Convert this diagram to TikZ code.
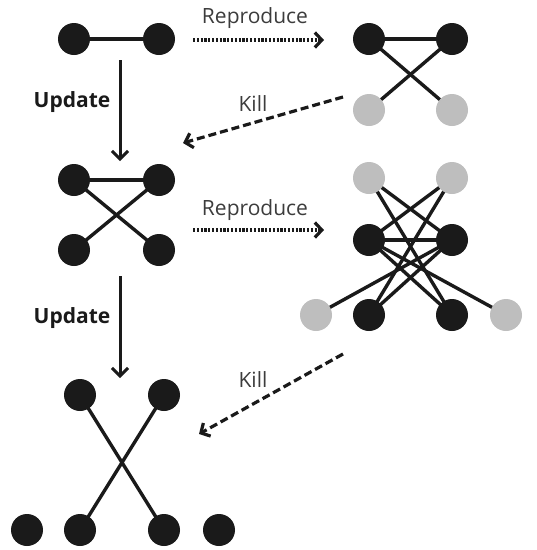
\documentclass[tikz,border=0pt]{standalone}
\usepackage{fontspec}
\setmainfont{Open Sans}
\usetikzlibrary{arrows.meta,backgrounds}
\definecolor{blk}{HTML}{1A1A1A}
\definecolor{gry}{HTML}{BEBEBE}
\tikzset{
  bn/.style={circle,fill=blk,minimum size=32pt,inner sep=0pt},
  gn/.style={circle,fill=gry,minimum size=32pt,inner sep=0pt},
  edge/.style={draw=blk,line width=3.4pt},
  updarrow/.style={draw=blk,line width=3pt,-{Straight Barb[length=8pt,width=16pt,line width=3pt]}},
  reparrow/.style={draw=blk,line width=3.2pt,dash pattern=on 2.2pt off 1.6pt,-{Straight Barb[length=7pt,width=15pt,line width=3.2pt]}},
  killarrow/.style={draw=blk,line width=3.2pt,dash pattern=on 8pt off 4pt,-{Straight Barb[length=7pt,width=15pt,line width=3.2pt]}},
  lbl/.style={font=\fontsize{21}{24}\selectfont,text=blk!85,inner sep=0pt},
  blbl/.style={font=\fontsize{21}{24}\selectfont\bfseries,text=blk,inner sep=0pt}
}
\begin{document}
\begin{tikzpicture}[x=1pt,y=-1pt]
\useasboundingbox (0,0) rectangle (537,550);
% group 1
\node[bn] (a1) at (74,39) {};
\node[bn] (a2) at (159,39) {};
% group 2 (top right)
\node[bn] (b1) at (369,39) {};
\node[bn] (b2) at (452,39) {};
\node[gn] (b3) at (369,110) {};
\node[gn] (b4) at (452,110) {};
% group 3 (middle left)
\node[bn] (c1) at (74,180) {};
\node[bn] (c2) at (159,180) {};
\node[bn] (c3) at (74,250) {};
\node[bn] (c4) at (159,250) {};
% group 4 (middle right)
\node[gn] (d1) at (369,178) {};
\node[gn] (d2) at (452,178) {};
\node[bn] (d3) at (369,240) {};
\node[bn] (d4) at (452,240) {};
\node[gn] (d5) at (316,315) {};
\node[bn] (d6) at (369,315) {};
\node[bn] (d7) at (452,315) {};
\node[gn] (d8) at (506,315) {};
% group 5 (bottom)
\node[bn] (e1) at (80,395) {};
\node[bn] (e2) at (164,395) {};
\node[bn] (e3) at (27,530) {};
\node[bn] (e4) at (80,530) {};
\node[bn] (e5) at (164,530) {};
\node[bn] (e6) at (219,530) {};
\begin{pgfonlayer}{background}
\draw[edge] (a1.center) -- (a2.center);
\draw[edge] (b1.center) -- (b2.center);
\draw[edge] (b1.center) -- (b4.center);
\draw[edge] (b2.center) -- (b3.center);
\draw[edge] (c1.center) -- (c2.center);
\draw[edge] (c1.center) -- (c4.center);
\draw[edge] (c2.center) -- (c3.center);
\draw[edge] (d1.center) -- (d4.center);
\draw[edge] (d1.center) -- (d7.center);
\draw[edge] (d2.center) -- (d3.center);
\draw[edge] (d2.center) -- (d6.center);
\draw[edge] (d3.center) -- (d4.center);
\draw[edge] (d3.center) -- (d7.center);
\draw[edge] (d4.center) -- (d6.center);
\draw[edge] (d3.center) -- (d8.center);
\draw[edge] (d4.center) -- (d5.center);
\draw[edge] (e1.center) -- (e5.center);
\draw[edge] (e2.center) -- (e4.center);
\end{pgfonlayer}
% arrows
\coordinate (u1s) at (120,60);
\coordinate (u1e) at (120,161);
\coordinate (u2s) at (120,276);
\coordinate (u2e) at (120,378);
\draw[updarrow] (u1s) -- (u1e);
\draw[updarrow] (u2s) -- (u2e);
\coordinate (r1s) at (193,40);
\coordinate (r1e) at (324,40);
\coordinate (r2s) at (193,230);
\coordinate (r2e) at (324,230);
\draw[reparrow] (r1s) -- (r1e);
\draw[reparrow] (r2s) -- (r2e);
\coordinate (k1s) at (343,97);
\coordinate (k1e) at (183,143);
\coordinate (k2s) at (343,354);
\coordinate (k2e) at (199,434);
\draw[killarrow] (k1s) -- (k1e);
\draw[killarrow] (k2s) -- (k2e);
% labels
\node[lbl] (t1) at (255,18) {Reproduce};
\node[lbl] (t2) at (255,210) {Reproduce};
\node[lbl] (t3) at (253,104) {Kill};
\node[lbl] (t4) at (253,380) {Kill};
\node[blbl] (t5) at (72,102) {Update};
\node[blbl] (t6) at (72,318) {Update};
\end{tikzpicture}
\end{document}
